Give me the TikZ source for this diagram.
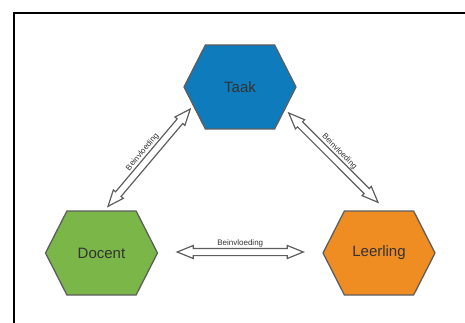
\documentclass[tikz,border=0pt]{standalone}
\usepackage{fontspec}
\setmainfont{Liberation Sans}
\usetikzlibrary{calc, shapes.symbols}

\definecolor{taakblue}{HTML}{0E7BBD}
\definecolor{docentgreen}{HTML}{7AB648}
\definecolor{leerlingorange}{HTML}{EF8D22}
\definecolor{rand}{HTML}{5E5E5E}
\definecolor{tekst}{HTML}{333333}

\begin{document}
\begin{tikzpicture}[
            x = 1pt, y = -1pt, % pixel grid, y runs down
            font = \fontsize{15}{18}\selectfont,
            semithick % line style
        ]
        \useasboundingbox (0,0) rectangle (465,323);

        \tikzstyle{hexa}=[
            signal,
            signal to = west and east,
            signal pointer angle = 126,
            draw = rand,
            line width = 1.3pt,
            minimum width = 112pt,
            minimum height = 84pt,
            text = tekst
        ]

        % hollow double-headed arrow between two points
        \tikzstyle{wissel}=[
            draw = rand,
            fill = white,
            line width = 1.2pt,
            line join = miter,
            to path = {
                -- ($($(\tikztostart)!16pt!(\tikztotarget)$)!6.5pt!90:(\tikztotarget)$)
                -- ($($(\tikztostart)!16pt!(\tikztotarget)$)!3.6pt!90:(\tikztotarget)$)
                -- ($($(\tikztotarget)!16pt!(\tikztostart)$)!3.6pt!-90:(\tikztostart)$)
                -- ($($(\tikztotarget)!16pt!(\tikztostart)$)!6.5pt!-90:(\tikztostart)$)
                -- (\tikztotarget)
                -- ($($(\tikztotarget)!16pt!(\tikztostart)$)!6.5pt!90:(\tikztostart)$)
                -- ($($(\tikztotarget)!16pt!(\tikztostart)$)!3.6pt!90:(\tikztostart)$)
                -- ($($(\tikztostart)!16pt!(\tikztotarget)$)!3.6pt!-90:(\tikztotarget)$)
                -- ($($(\tikztostart)!16pt!(\tikztotarget)$)!6.5pt!-90:(\tikztotarget)$)
                -- cycle
            }
        ]

        \tikzstyle{pijltekst}=[
            font = \fontsize{8}{9}\selectfont,
            text = tekst,
            inner sep = 0.5pt
        ]

        % frame
        \draw[black, line width = 2pt] (14,330) -- (14,13) -- (470,13);

        \node[hexa, fill=taakblue] (taak) at (240,87) {Taak};
        \node[hexa, fill=docentgreen] (docent) at (101.5,253) {Docent};
        \node[hexa, fill=leerlingorange] (leerling) at (379,253) {Leerling};

        \coordinate (dt-a) at ([xshift=6.5pt, yshift=4pt]docent.north);
        \coordinate (dt-b) at ([xshift=7pt, yshift=-22pt]taak.west);
        \coordinate (tl-a) at ([xshift=-8pt, yshift=-26pt]taak.east);
        \coordinate (tl-b) at ([xshift=-1pt, yshift=8pt]leerling.north);
        \coordinate (dl-a) at ([xshift=19pt, yshift=1pt]docent.east);
        \coordinate (dl-b) at ([xshift=-19pt, yshift=1pt]leerling.west);

        \draw[wissel] (dt-a) to (dt-b);
        \draw[wissel] (tl-a) to (tl-b);
        \draw[wissel] (dl-a) to (dl-b);

        \path (dt-a) -- (dt-b) node[midway, sloped, above=4pt, pijltekst] {Beinvloeding};
        \path (tl-a) -- (tl-b) node[midway, sloped, above=4pt, pijltekst] {Beinvloeding};
        \path (dl-a) -- (dl-b) node[midway, above=4pt, pijltekst] {Beinvloeding};
    \end{tikzpicture}
\end{document}
